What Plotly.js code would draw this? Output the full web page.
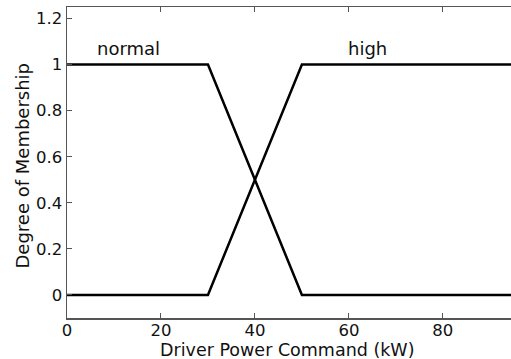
<!DOCTYPE html>
<html><head><meta charset="utf-8">
<script src="https://cdn.plot.ly/plotly-3.0.1.min.js"></script>
<style>html,body{margin:0;padding:0;background:#fff}</style>
</head><body><div id="chart" style="width:511px;height:359px"></div>
<script>
const xPoints = [0, 30, 50, 100];
const normalValues = [1, 1, 0, 0];
const highValues = [0, 0, 1, 1];
const xTicks = [0, 20, 40, 60, 80];
const yTicks = [0, 0.2, 0.4, 0.6, 0.8, 1, 1.2];
const yTickLabels = ['0', '0.2', '0.4', '0.6', '0.8', '1', '1.2'];
const labelNames = ['normal', 'high'];
const labelX = [13.1, 63.9];
const labelY = [1.07, 1.07];
const xTitle = 'Driver Power Command (kW)';
const yTitle = 'Degree of Membership';

const lineStyle = {color: '#000', width: 2.5};
const traces = [
  {x: xPoints, y: normalValues, mode: 'lines', line: lineStyle, name: 'normal', hoverinfo: 'skip'},
  {x: xPoints, y: highValues, mode: 'lines', line: lineStyle, name: 'high', hoverinfo: 'skip'}
];
const fam = 'DejaVu Sans, Verdana, sans-serif';
const tickFont = {family: fam, size: 16.5, color: '#111'};
const xTitleFont = {family: fam, size: 17.5, color: '#111'};
const yTitleFont = {family: fam, size: 18, color: '#111'};
const labelFont = {family: fam, size: 18, color: '#111'};
const layout = {
  width: 511, height: 359,
  margin: {l: 67, r: 0, t: 7, b: 41},
  showlegend: false,
  paper_bgcolor: '#fff', plot_bgcolor: '#fff',
  xaxis: {
    range: [0, 94.5], tickvals: xTicks, ticks: 'inside', ticklen: 5, tickcolor: '#555',
    showline: true, linecolor: '#555', linewidth: 1.5, mirror: 'ticks',
    showgrid: false, zeroline: false, tickfont: tickFont, ticklabelstandoff: -3
  },
  yaxis: {
    range: [-0.1, 1.25], tickvals: yTicks, ticktext: yTickLabels, ticks: 'inside', ticklen: 5, tickcolor: '#555',
    showline: true, linecolor: '#555', linewidth: 1.5,
    showgrid: false, zeroline: false, tickfont: tickFont
  },
  annotations: labelNames.map((t, i) => ({x: labelX[i], y: labelY[i], text: t, showarrow: false, font: labelFont, xanchor: 'center', yanchor: 'middle'})).concat([
    {xref: 'paper', yref: 'paper', x: 0.497, y: -0.103, text: xTitle, showarrow: false, font: xTitleFont, xanchor: 'center', yanchor: 'middle', borderpad: 0},
    {xref: 'paper', yref: 'paper', x: -0.1, y: 0.489, text: yTitle, showarrow: false, font: yTitleFont, textangle: -90, xanchor: 'center', yanchor: 'middle'}
  ])
};
Plotly.newPlot('chart', traces, layout, {displayModeBar: false, staticPlot: true});
</script></body></html>
